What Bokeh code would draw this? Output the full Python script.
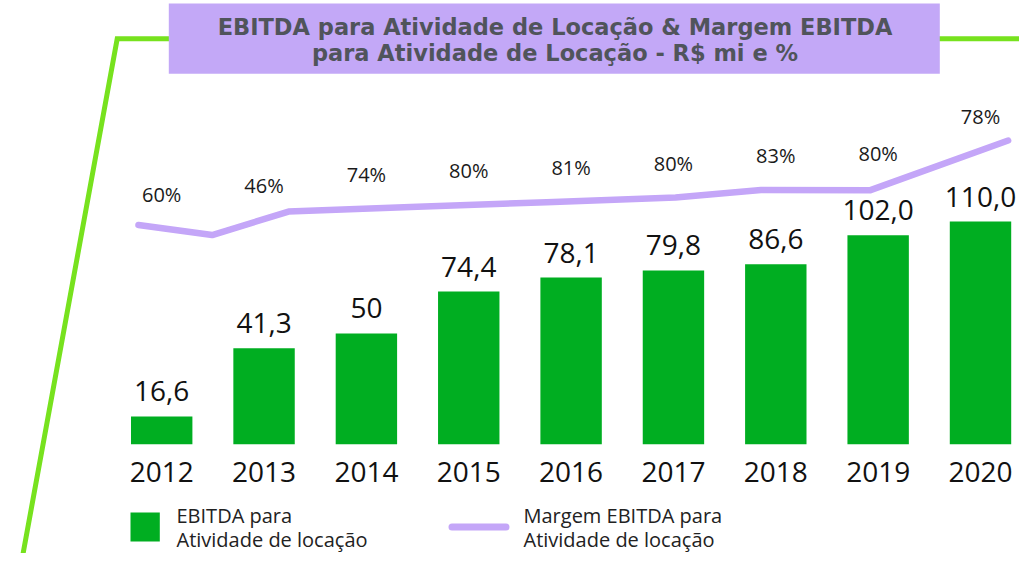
from bokeh.plotting import figure
from bokeh.models import Range1d
from bokeh.core.properties import value
from bokeh.embed import file_html
from bokeh.resources import INLINE
import numpy as np

# ---------------- data ----------------
years = ["2012", "2013", "2014", "2015", "2016", "2017", "2018", "2019", "2020"]
ebitda_labels = ["16,6", "41,3", "50", "74,4", "78,1", "79,8", "86,6", "102,0", "110,0"]
# bar heights as drawn in the picture (R$ mi scale, 2020 = 110)
ebitda_bars = [13.7, 47.4, 54.7, 75.4, 82.3, 85.8, 88.9, 103.2, 110.0]
margin_labels = ["60%", "46%", "74%", "80%", "81%", "80%", "83%", "80%", "78%"]
# margin line as drawn (x in year-slot units, y in the same scale as the bars)
margin_line_x = [-0.227, 0.493, 1.239, 2.499, 3.76, 5.02, 5.855, 6.925, 8.27]
margin_line_y = [108.3, 103.3, 114.9, 117.3, 119.5, 121.9, 125.6, 125.5, 150.0]

title_lines = ["EBITDA para Atividade de Locação & Margem EBITDA",
               "para Atividade de Locação - R$ mi e %"]
legend_bar = ["EBITDA para", "Atividade de locação"]
legend_line = ["Margem EBITDA para", "Atividade de locação"]

# ---------------- styling ----------------
GREEN = "#00ae21"
PURPLE = "#c4a6f8"
BOX = "#c3a8f7"
FRAME = "#77e21e"
TITLE_C = "#50545b"
FONT = "Open Sans"

W, H = 1019, 553
SLOT = 102.35      # px per year slot
X0 = 161.2         # page x of first bar centre
BASE = 443.7       # page y of bar baseline
K = 2.0245         # px per unit


def dx(X):
    return (X - X0) / SLOT


def dy(Y):
    return (BASE - Y) / K


p = figure(width=W, height=H, output_backend="svg", toolbar_location=None,
           x_range=Range1d(dx(0), dx(W)), y_range=Range1d(dy(H), dy(0)),
           min_border=0, min_border_left=0, min_border_right=0,
           min_border_top=0, min_border_bottom=0)
p.axis.visible = False
p.grid.visible = False
p.outline_line_color = None
p.background_fill_color = "white"
p.border_fill_color = "white"

# green frame
p.line([dx(14), dx(116.7), dx(1045)], [dy(600), dy(38.3), dy(38.3)],
       line_color=FRAME, line_width=5, line_join="miter")

# title box
p.quad(left=dx(168.3), right=dx(939.3), bottom=dy(73.3), top=dy(3),
       fill_color=BOX, line_color=None)
for i, t in enumerate(title_lines):
    p.text(x=[dx(554.5)], y=[dy(26.0 + 26.8 * i)], text=[t],
           text_font=value("DejaVu Sans"), text_font_style="bold", text_font_size="22.5px",
           text_color=TITLE_C, text_align="center", text_baseline="middle")

idx = np.arange(len(years))

# bars
p.vbar(x=idx, top=ebitda_bars, bottom=0, width=0.6, fill_color=GREEN, line_color=None)
p.text(x=idx, y=np.array(ebitda_bars) + 25 / K, text=ebitda_labels,
       text_font=value(FONT), text_font_size="28px", text_color="#111111",
       text_align="center", text_baseline="middle")

# year labels
p.text(x=idx, y=[dy(471.7)] * len(years), text=years,
       text_font=value(FONT), text_font_size="28px", text_color="#111111",
       text_align="center", text_baseline="middle")

# margin line
p.line(margin_line_x, margin_line_y, line_color=PURPLE, line_width=6.5,
       line_cap="round", line_join="round")
line_at = np.interp(idx, margin_line_x, margin_line_y)
p.text(x=idx, y=line_at + 34 / K, text=margin_labels,
       text_font=value(FONT), text_font_size="20px", text_color="#1a1a1a",
       text_align="center", text_baseline="middle")

# legend (nudged up slightly so the second line fits inside the canvas)
p.quad(left=dx(130), right=dx(159.3), bottom=dy(541), top=dy(512),
       fill_color=GREEN, line_color=None)
for i, t in enumerate(legend_bar):
    p.text(x=[dx(176)], y=[dy(514.5 + 24 * i)], text=[t],
           text_font=value(FONT), text_font_size="20px", text_color="#222222",
           text_align="left", text_baseline="middle")
p.line([dx(451.5), dx(505.5)], [dy(526.5), dy(526.5)], line_color=PURPLE,
       line_width=7, line_cap="round")
for i, t in enumerate(legend_line):
    p.text(x=[dx(523)], y=[dy(514.5 + 24 * i)], text=[t],
           text_font=value(FONT), text_font_size="20px", text_color="#222222",
           text_align="left", text_baseline="middle")

open("out.html", "w").write(file_html(p, INLINE))
